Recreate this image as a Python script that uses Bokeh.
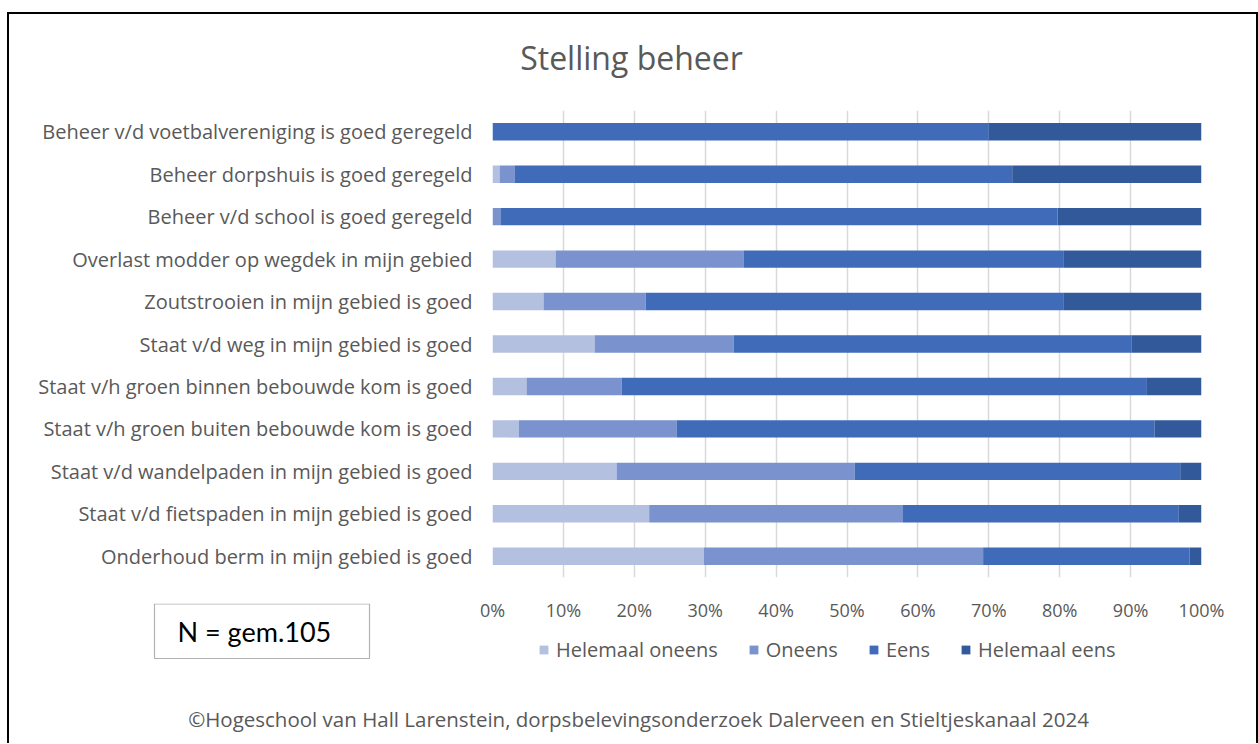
from bokeh.plotting import figure
from bokeh.layouts import column
from bokeh.models import (FactorRange, Range1d, FixedTicker, PrintfTickFormatter,
                          Legend, LegendItem, Label, BoxAnnotation, ColumnDataSource)
from bokeh.embed import file_html
from bokeh.resources import INLINE

categories = [
    "Beheer v/d voetbalvereniging is goed geregeld",
    "Beheer dorpshuis is goed geregeld",
    "Beheer v/d school is goed geregeld",
    "Overlast modder op wegdek in mijn gebied",
    "Zoutstrooien in mijn gebied is goed",
    "Staat v/d weg in mijn gebied is goed",
    "Staat v/h groen binnen bebouwde kom is goed",
    "Staat v/h groen buiten bebouwde kom is goed",
    "Staat v/d wandelpaden in mijn gebied is goed",
    "Staat v/d fietspaden in mijn gebied is goed",
    "Onderhoud berm in mijn gebied is goed",
]
helemaal_oneens = [0.0, 1.0, 0.0, 8.9, 7.2, 14.4, 4.8, 3.7, 17.5, 22.1, 29.8]
oneens = [0.0, 2.1, 1.2, 26.5, 14.4, 19.6, 13.4, 22.3, 33.6, 35.8, 39.4]
eens = [70.0, 70.2, 78.5, 45.1, 58.9, 56.1, 74.1, 67.4, 45.9, 38.9, 29.1]
helemaal_eens = [30.0, 26.7, 20.3, 19.5, 19.5, 9.9, 7.7, 6.6, 3.0, 3.2, 1.7]

series_names = ["Helemaal oneens", "Oneens", "Eens", "Helemaal eens"]
series_keys = ["ho", "o", "e", "he"]
colors = ["#b4c0e0", "#7a92cd", "#3f6bb8", "#325a9b"]
x_ticks = [0, 10, 20, 30, 40, 50, 60, 70, 80, 90, 100]

title_text = "Stelling beheer"
n_text = "N = gem.105"
footer_text = "\u00a9Hogeschool van Hall Larenstein, dorpsbelevingsonderzoek Dalerveen en Stieltjeskanaal 2024"

cats_rev = categories[::-1]
source = ColumnDataSource(dict(
    cat=cats_rev,
    ho=helemaal_oneens[::-1],
    o=oneens[::-1],
    e=eens[::-1],
    he=helemaal_eens[::-1],
))

GRAY = "#595959"
FONT = "Open Sans"
W = 1247
NAN = float("nan")


def strip(height):
    """A figure whose frame fills the whole canvas, one data unit per pixel."""
    f = figure(width=W, height=height, x_range=Range1d(0, W), y_range=Range1d(height, 0),
               x_axis_type=None, y_axis_type=None, output_backend="svg",
               toolbar_location=None, min_border=0, min_border_left=0,
               min_border_right=0, min_border_top=0, min_border_bottom=0,
               title=None)
    f.outline_line_color = None
    f.background_fill_alpha = 0
    f.border_fill_alpha = 0
    f.frame_align = False
    return f


# ---------------- title strip ----------------
TH = 70
t = strip(TH)
t.add_layout(Label(x=622, y=43, text=title_text, text_align="center",
                   text_baseline="middle", text_font=FONT,
                   text_font_size="32px", text_color=GRAY))

# ---------------- main chart ----------------
p = figure(width=W, height=540, y_range=FactorRange(*cats_rev),
           x_range=Range1d(0, 100), output_backend="svg", toolbar_location=None,
           min_border_left=483, min_border_right=55, min_border_top=26,
           min_border_bottom=46, title=None)
p.outline_line_color = None
p.frame_align = False

renderers = p.hbar_stack(series_keys, y="cat", height=0.41, color=colors,
                         line_color=None, source=source)

p.xaxis.ticker = FixedTicker(ticks=x_ticks)
p.xaxis.formatter = PrintfTickFormatter(format="%d%%")
p.xaxis.axis_line_color = None
p.xaxis.major_tick_line_color = None
p.xaxis.minor_tick_line_color = None
p.xaxis.major_tick_out = 0
p.xaxis.major_tick_in = 0
p.xaxis.minor_tick_out = 0
p.xaxis.major_label_standoff = 20
p.xaxis.major_label_text_font = FONT
p.xaxis.major_label_text_font_size = "18px"
p.xaxis.major_label_text_color = GRAY

p.yaxis.axis_line_color = None
p.yaxis.major_tick_line_color = None
p.yaxis.minor_tick_line_color = None
p.yaxis.major_tick_out = 0
p.yaxis.major_tick_in = 0
p.yaxis.major_label_standoff = 20
p.yaxis.major_label_text_font = FONT
p.yaxis.major_label_text_font_size = "20px"
p.yaxis.major_label_text_color = GRAY

p.xgrid.grid_line_color = "#d9d9d9"
p.xgrid.grid_line_width = 1.5
p.ygrid.grid_line_color = None

# ---------------- bottom strip: legend, N box, footer ----------------
QH = 140
q = strip(QH)
q.margin = (-21, 0, 0, 0)

# legend swatches only (no visible data of their own)
legend_renderers = [q.quad(left=[NAN], right=[NAN], top=[NAN], bottom=[NAN],
                           fill_color=c, line_color=None) for c in colors]
leg = Legend(items=[LegendItem(label=n, renderers=[r])
                    for n, r in zip(series_names, legend_renderers)],
             orientation="horizontal", location=(529, 80),
             glyph_width=11, glyph_height=11, label_text_font=FONT,
             label_text_font_size="20px", label_text_color=GRAY,
             spacing=30, padding=0, margin=0, label_standoff=7,
             border_line_color=None, background_fill_alpha=0)
q.add_layout(leg, "center")

q.add_layout(BoxAnnotation(left=145, right=360, top=0.5, bottom=55,
                           fill_color="white", fill_alpha=1,
                           line_color="black", line_width=1.2))
q.add_layout(Label(x=168, y=28, text=n_text, text_align="left",
                   text_baseline="middle", text_font="Lato",
                   text_font_size="27px", text_color="black"))
q.add_layout(Label(x=629, y=115, text=footer_text, text_align="center",
                   text_baseline="middle", text_font=FONT,
                   text_font_size="20.5px", text_color=GRAY))

layout = column(t, p, q, spacing=0)
layout.margin = (12, 0, 0, 7)
layout.styles = {"border-top": "2px solid black", "border-left": "2px solid black",
                 "border-right": "2px solid black"}

open("out.html", "w").write(file_html(layout, INLINE))
